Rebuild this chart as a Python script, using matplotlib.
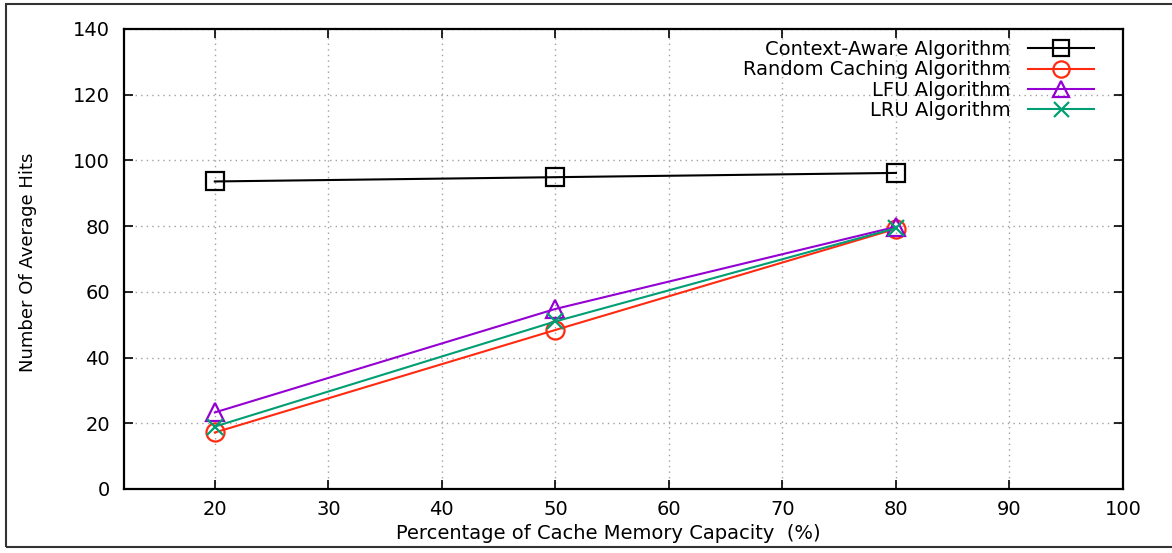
import matplotlib
matplotlib.use("Agg")
import matplotlib.pyplot as plt
from matplotlib.patches import Rectangle

capacity = [20, 50, 80]
context_aware = [93.6, 94.9, 96.2]
random_caching = [17.2, 48.4, 79.2]
lfu = [23.3, 54.8, 79.8]
lru = [19.0, 51.0, 79.4]

labels = ["Context-Aware Algorithm", "Random Caching Algorithm",
          "LFU Algorithm", "LRU Algorithm"]
x_ticks = [20, 30, 40, 50, 60, 70, 80, 90, 100]
y_ticks = [0, 20, 40, 60, 80, 100, 120, 140]

plt.rcParams["font.family"] = ["DejaVu Sans"]
plt.rcParams["font.size"] = 14

fig = plt.figure(figsize=(11.72, 5.53), dpi=100)
ax = fig.add_axes([124 / 1172, 1 - 489 / 553, 999 / 1172, 460 / 553])

# outer frame of the picture
fig.patches.append(Rectangle((5.5 / 1172, 1 - 547 / 553), 1.1, (547 - 4) / 553,
                             transform=fig.transFigure, fill=False,
                             edgecolor="#333333", linewidth=1.5))

lw = 1.5
ax.plot(capacity, context_aware, color="black", lw=lw, marker="s", ms=13,
        mfc="none", mew=1.6, label=labels[0])
ax.plot(capacity, random_caching, color="#ff2a10", lw=lw, marker="o", ms=13,
        mfc="none", mew=1.6, label=labels[1])
ax.plot(capacity, lfu, color="#9400d3", lw=lw, marker="^", ms=13,
        mfc="none", mew=1.6, label=labels[2])
ax.plot(capacity, lru, color="#009e73", lw=lw, marker="x", ms=12,
        mew=1.6, label=labels[3])

ax.set_xlim(12, 100)
ax.set_ylim(0, 140)
ax.set_xticks(x_ticks)
ax.set_yticks(y_ticks)
ax.grid(True, linestyle=(0, (1, 3)), color="#a0a0a0", lw=1)
ax.tick_params(direction="in", top=True, right=True, length=6.5, width=1.2,
               labelsize=14)
ax.tick_params(axis="y", pad=10)
ax.tick_params(axis="x", pad=8)
for s in ax.spines.values():
    s.set_linewidth(1.6)

ax.set_xlabel("Percentage of Cache Memory Capacity  (%)", fontsize=14)
ax.xaxis.set_label_coords(0.485, -0.096)
ax.xaxis.label.set_va("center")
ax.set_ylabel("Number Of Average Hits", fontsize=13)
ax.yaxis.set_label_coords(-0.096, 0.4935)
ax.yaxis.label.set_va("center")

ax.legend(loc="upper right", bbox_to_anchor=(0.971, 0.976), frameon=False,
          markerfirst=False, handlelength=3.4, handletextpad=0.9,
          labelspacing=0.07, borderpad=0, borderaxespad=0, fontsize=14,
          markerscale=0.9)

fig.savefig("out.png", dpi=100)
